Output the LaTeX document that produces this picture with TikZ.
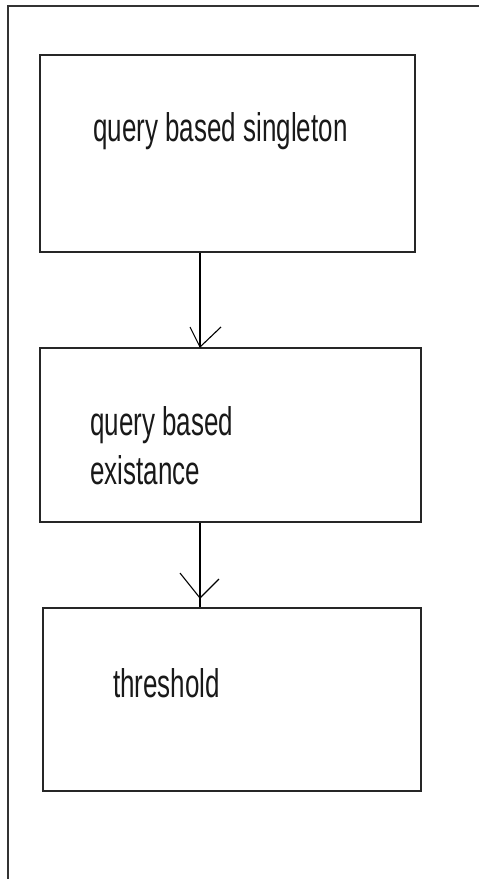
\documentclass[tikz,border=0pt]{standalone}
\usepackage{fontspec}
\setmainfont[FakeStretch=0.65]{Liberation Sans}
\begin{document}
\begin{tikzpicture}[x=1pt,y=-1pt,
  box/.style={draw=black!85,line width=1.6pt,inner sep=0pt},
  lbl/.style={inner sep=0pt,font=\fontsize{40}{49}\selectfont,text=black!90,align=left},
  conn/.style={draw=black,line width=1.3pt},
  head/.style={draw=black,line width=1.1pt}]
\useasboundingbox (0,0) rectangle (479,879);
% outer frame
\coordinate (fr) at (479,6);
\coordinate (fc) at (8,6);
\coordinate (fb) at (8,879);
\draw[line width=1.6pt,black!80] (fr) -- (fc) -- (fb);
% boxes
\node[box,minimum width=375pt,minimum height=197pt] (b1) at (227.5,153.5) {};
\node[box,minimum width=381pt,minimum height=174pt] (b2) at (230.5,435) {};
\node[box,minimum width=378pt,minimum height=183pt] (b3) at (232,699.5) {};
% texts
\node[lbl,anchor=base west] (t1) at (93,141) {query based singleton};
\node[lbl,anchor=base west] (t2) at (90,435) {query based};
\node[lbl,anchor=base west] (t2b) at (90,484) {existance};
\node[lbl,anchor=base west] (t3) at (113,697) {threshold};
% connectors
\coordinate (ax) at (200,0);
\draw[conn] (b1.south -| ax) -- (b2.north -| ax);
\draw[conn] (b2.south -| ax) -- (b3.north -| ax);
% open arrow heads
\coordinate (h1) at (200,347);
\coordinate (h1l) at (190,327);
\coordinate (h1r) at (221,327);
\draw[head] (h1l) -- (h1) -- (h1r);
\coordinate (h2) at (200,598);
\coordinate (h2l) at (180,573);
\coordinate (h2r) at (219,579);
\draw[head] (h2l) -- (h2) -- (h2r);
\end{tikzpicture}
\end{document}
